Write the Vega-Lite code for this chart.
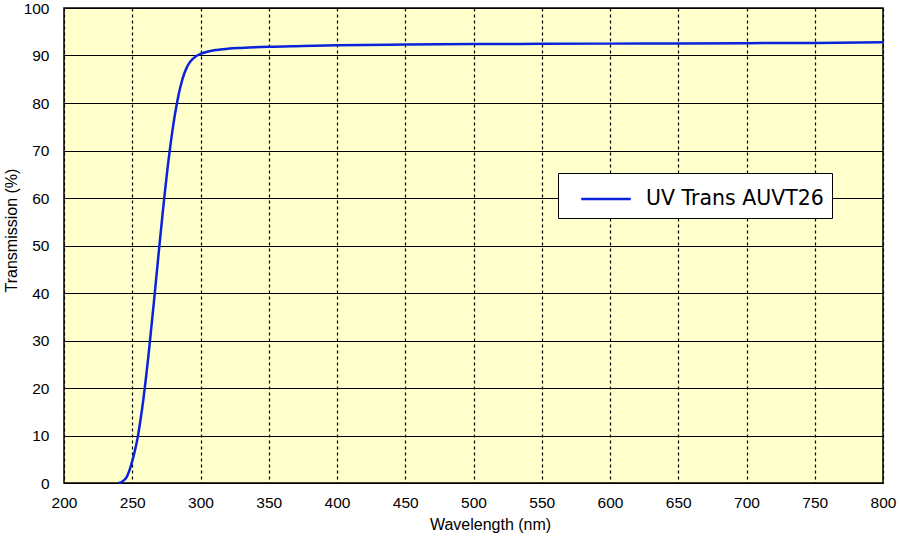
{
  "$schema": "https://vega.github.io/schema/vega-lite/v6.json",
  "width": 819,
  "height": 475,
  "autosize": {"type": "none"},
  "padding": {"left": 64, "top": 8, "right": 17, "bottom": 57},
  "background": "white",
  "config": {
    "view": {"fill": "#FFFFCC", "stroke": "#000000", "strokeWidth": 1.5},
    "font": "Liberation Sans"
  },
  "data": {
    "values": [
      {"wl": 240, "t": 0, "series": "UV Trans AUVT26"},
      {"wl": 242, "t": 0.2, "series": "UV Trans AUVT26"},
      {"wl": 244, "t": 0.6, "series": "UV Trans AUVT26"},
      {"wl": 246, "t": 1.3, "series": "UV Trans AUVT26"},
      {"wl": 248, "t": 2.7, "series": "UV Trans AUVT26"},
      {"wl": 250, "t": 4.6, "series": "UV Trans AUVT26"},
      {"wl": 252, "t": 6.9, "series": "UV Trans AUVT26"},
      {"wl": 254, "t": 9.6, "series": "UV Trans AUVT26"},
      {"wl": 256, "t": 13.2, "series": "UV Trans AUVT26"},
      {"wl": 258, "t": 17.3, "series": "UV Trans AUVT26"},
      {"wl": 260, "t": 22, "series": "UV Trans AUVT26"},
      {"wl": 262, "t": 27.2, "series": "UV Trans AUVT26"},
      {"wl": 264, "t": 32.8, "series": "UV Trans AUVT26"},
      {"wl": 266, "t": 38.5, "series": "UV Trans AUVT26"},
      {"wl": 268, "t": 44.4, "series": "UV Trans AUVT26"},
      {"wl": 270, "t": 50.3, "series": "UV Trans AUVT26"},
      {"wl": 272, "t": 56, "series": "UV Trans AUVT26"},
      {"wl": 274, "t": 61.5, "series": "UV Trans AUVT26"},
      {"wl": 276, "t": 66.6, "series": "UV Trans AUVT26"},
      {"wl": 278, "t": 71.2, "series": "UV Trans AUVT26"},
      {"wl": 280, "t": 75.3, "series": "UV Trans AUVT26"},
      {"wl": 282, "t": 78.8, "series": "UV Trans AUVT26"},
      {"wl": 284, "t": 81.8, "series": "UV Trans AUVT26"},
      {"wl": 286, "t": 84.2, "series": "UV Trans AUVT26"},
      {"wl": 288, "t": 86.1, "series": "UV Trans AUVT26"},
      {"wl": 290, "t": 87.5, "series": "UV Trans AUVT26"},
      {"wl": 292, "t": 88.5, "series": "UV Trans AUVT26"},
      {"wl": 294, "t": 89.2, "series": "UV Trans AUVT26"},
      {"wl": 296, "t": 89.7, "series": "UV Trans AUVT26"},
      {"wl": 298, "t": 90.05, "series": "UV Trans AUVT26"},
      {"wl": 300, "t": 90.35, "series": "UV Trans AUVT26"},
      {"wl": 305, "t": 90.8, "series": "UV Trans AUVT26"},
      {"wl": 310, "t": 91.1, "series": "UV Trans AUVT26"},
      {"wl": 320, "t": 91.42, "series": "UV Trans AUVT26"},
      {"wl": 330, "t": 91.6, "series": "UV Trans AUVT26"},
      {"wl": 350, "t": 91.85, "series": "UV Trans AUVT26"},
      {"wl": 375, "t": 92, "series": "UV Trans AUVT26"},
      {"wl": 400, "t": 92.15, "series": "UV Trans AUVT26"},
      {"wl": 450, "t": 92.3, "series": "UV Trans AUVT26"},
      {"wl": 500, "t": 92.4, "series": "UV Trans AUVT26"},
      {"wl": 550, "t": 92.45, "series": "UV Trans AUVT26"},
      {"wl": 600, "t": 92.5, "series": "UV Trans AUVT26"},
      {"wl": 650, "t": 92.55, "series": "UV Trans AUVT26"},
      {"wl": 700, "t": 92.6, "series": "UV Trans AUVT26"},
      {"wl": 750, "t": 92.65, "series": "UV Trans AUVT26"},
      {"wl": 800, "t": 92.8, "series": "UV Trans AUVT26"}
    ]
  },
  "mark": {"type": "line", "strokeWidth": 2.5, "interpolate": "monotone"},
  "encoding": {
    "x": {
      "field": "wl", "type": "quantitative",
      "scale": {"domain": [200, 800], "nice": false, "zero": false},
      "axis": {
        "title": "Wavelength (nm)", "titleFontSize": 16, "titleFontWeight": "normal", "titleColor": "#000", "titlePadding": 6, "titleX": 426, "titleAlign": "center",
        "values": [200, 250, 300, 350, 400, 450, 500, 550, 600, 650, 700, 750, 800],
        "labelFontSize": 15.5, "labelColor": "#000", "labelPadding": 12, "labelFlush": false, "labelOverlap": false,
        "ticks": false, "domain": false,
        "grid": true, "gridColor": "#000", "gridDash": [3, 3], "gridWidth": 1.2, "gridOpacity": 1
      }
    },
    "y": {
      "field": "t", "type": "quantitative",
      "scale": {"domain": [0, 100], "nice": false},
      "axis": {
        "title": "Transmission (%)", "titleFontSize": 16, "titleFontWeight": "normal", "titleColor": "#000", "titlePadding": 4, "titleY": 222, "titleAlign": "center",
        "values": [0, 10, 20, 30, 40, 50, 60, 70, 80, 90, 100],
        "labelFontSize": 15.5, "labelColor": "#000", "labelPadding": 15, "labelFlush": false, "labelOverlap": false,
        "ticks": false, "domain": false,
        "grid": true, "gridColor": "#000", "gridWidth": 1.2, "gridOpacity": 1
      }
    },
    "color": {
      "field": "series", "type": "nominal",
      "scale": {"range": ["#0a22dc"]},
      "legend": {
        "orient": "none", "legendX": 494, "legendY": 165,
        "title": null,
        "fillColor": "white", "strokeColor": "#000",
        "padding": 8,
        "symbolType": "M-1.5,0H1.5", "symbolSize": 1089, "symbolStrokeWidth": 2.5, "symbolOffset": 22,
        "labelFont": "DejaVu Sans", "labelFontSize": 20.5, "labelColor": "#000", "labelOffset": 22, "labelLimit": 400,
        "rowPadding": 0
      }
    }
  }
}
